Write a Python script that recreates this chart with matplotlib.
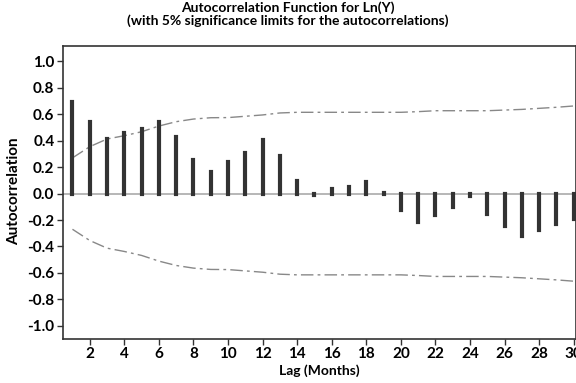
import matplotlib
matplotlib.use("Agg")
import matplotlib.pyplot as plt
import numpy as np

lags = list(range(1, 31))
acf = [0.69, 0.545, 0.415, 0.46, 0.49, 0.545, 0.425, 0.256, 0.165, 0.24,
       0.31, 0.403, 0.282, 0.092, -0.01, 0.035, 0.05, 0.09, 0.008, -0.128,
       -0.218, -0.16, -0.104, -0.02, -0.153, -0.242, -0.318, -0.277, -0.233, -0.195]
upper = [0.27, 0.355, 0.413, 0.438, 0.468, 0.511, 0.544, 0.564, 0.574, 0.575,
         0.585, 0.595, 0.61, 0.615, 0.615, 0.615, 0.615, 0.615, 0.615, 0.615,
         0.62, 0.627, 0.627, 0.627, 0.627, 0.632, 0.637, 0.645, 0.653, 0.663]
lower = [-u for u in upper]
xticks = list(range(2, 31, 2))
yticks = [1.0, 0.8, 0.6, 0.4, 0.2, 0.0, -0.2, -0.4, -0.6, -0.8, -1.0]

plt.rcParams['font.family'] = ['Lato', 'DejaVu Sans']
plt.rcParams['font.weight'] = 'bold'

fig = plt.figure(figsize=(5.76, 3.83), dpi=100)
ax = fig.add_axes([0.109, 0.115, 0.891, 0.765])

ax.axhline(0, color='#aaaaaa', lw=1.2, zorder=1)
bars = ax.vlines(lags, 0, acf, color='#333333', lw=3.0, zorder=3)
bars.set_capstyle('projecting')
ax.plot(lags, upper, color='#888888', lw=1.0, dashes=[9, 3, 2, 3], zorder=2)
ax.plot(lags, lower, color='#888888', lw=1.0, dashes=[9, 3, 2, 3], zorder=2)

ax.set_xlim(0.44, 30.13)
ax.set_ylim(-1.10, 1.117)
ax.set_xticks(xticks)
ax.set_xticklabels([str(t) for t in xticks], fontsize=11, fontweight='bold')
ax.set_yticks(yticks)
ax.set_yticklabels([f"{t:.1f}" for t in yticks], fontsize=11, fontweight='bold')
ax.tick_params(direction='out', length=4, width=1, color='#333333', pad=2)
for s in ax.spines.values():
    s.set_color('#333333')
    s.set_linewidth(1.2)

ax.set_xlabel('Lag (Months)', fontsize=10, fontweight='bold', labelpad=2)
fig.text(0.025, 0.5, 'Autocorrelation', rotation=90, ha='center', va='center',
         fontsize=11, fontweight='bold')
fig.text(0.5, 0.963, 'Autocorrelation Function for Ln(Y)\n(with 5% significance limits for the autocorrelations)',
         ha='center', va='center', fontsize=10, fontweight='bold', linespacing=1.1)

fig.savefig('out.png', dpi=100)
